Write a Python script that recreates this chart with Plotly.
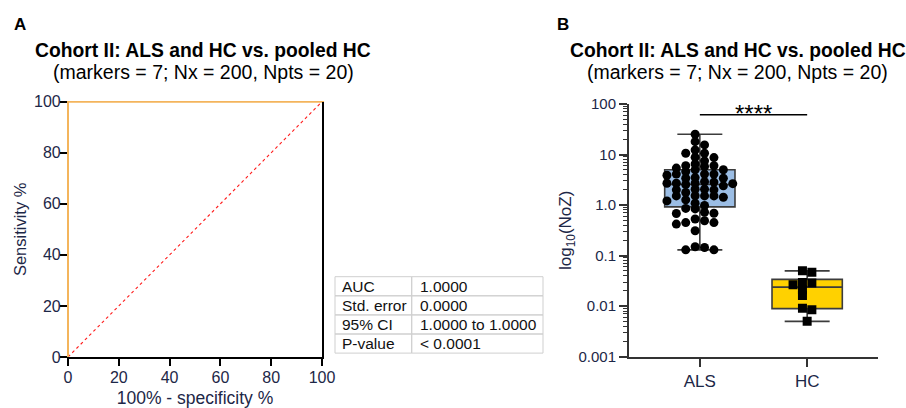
import numpy as np
import plotly.graph_objects as go

# ---------------- data ----------------
roc_fpr = [0, 0, 100]
roc_tpr = [0, 100, 100]
ref_line = [0, 100]

table_labels = ["AUC", "Std. error", "95% CI", "P-value"]
table_values = ["1.0000", "0.0000", "1.0000 to 1.0000", "< 0.0001"]

groups = ["ALS", "HC"]
als_values = [25.2, 15.5, 18.0, 12.3, 10.6, 10.6, 8.8, 8.7, 7.5, 6.5, 6.0, 6.0, 5.8, 5.4,
              5.0, 5.0, 4.6, 4.1, 3.9, 4.1, 4.1, 3.5, 3.4, 3.4, 2.7, 2.7, 2.65, 2.7, 2.9,
              2.85, 2.4, 2.55, 2.06, 2.0, 2.06, 2.0, 1.52, 1.77, 1.52, 1.53, 1.52, 1.43,
              1.21, 1.27, 0.98, 1.09, 0.84, 0.86, 0.72, 0.69, 0.68, 0.53, 0.49, 0.45, 0.45,
              0.42, 0.31, 0.130, 0.15, 0.130, 0.145]
hc_values = [0.050, 0.047, 0.0286, 0.0211, 0.0265, 0.0295, 0.0163, 0.0091, 0.0085, 0.0050]

y_tickvals = [0.001, 0.01, 0.1, 1, 10, 100]
y_ticktext = ["0.001", "0.01", "0.1", "1.0", "10", "100"]
roc_ticks = [0, 20, 40, 60, 80, 100]

# ---------------- geometry helpers ----------------
W, H = 906, 408
def px(x):
    return x / W
def py(y):
    return 1 - y / H

L_X = [px(68), px(322)]
L_Y = [py(357), py(101.7)]
R_X = [px(629), px(878)]
R_Y = [py(356.7), py(104)]
x2_range = [-0.66, 1.66]
y2_range = [-3, 2]

NAVY = "#1d2747"
ORANGE = "#f4b55c"
FONT = "Arial, Liberation Sans, sans-serif"

# pixel scales for the swarm layout
ppu = (878 - 629) / (x2_range[1] - x2_range[0])
ppd = (356.7 - 104) / (y2_range[1] - y2_range[0])


def swarm(vals, col=9.4, dv=5.6):
    """column-constrained scatter: points go to half-integer columns nearest centre"""
    v = np.asarray(vals, float)
    ys = np.log10(v) * ppd
    order = np.argsort(-v)
    offs = np.zeros(len(v))
    cands = []
    for k in range(8):
        cands += [-(k + 0.5), (k + 0.5)]
    placed = {}
    for i in order:
        others = np.delete(ys, i)
        if np.all(np.abs(others - ys[i]) >= 8.0):
            offs[i] = 0.0
            continue
        for c in cands:
            if all(abs(y - ys[i]) >= dv for y in placed.get(c, [])):
                placed.setdefault(c, []).append(ys[i])
                offs[i] = c
                break
    return offs * col / ppu


def stats(vals):
    v = np.asarray(vals, float)
    q1, med, q3 = np.percentile(v, [25, 50, 75], method="weibull")
    return dict(q1=[q1], median=[med], q3=[q3], lowerfence=[v.min()], upperfence=[v.max()])


fig = go.Figure()

# ---------------- panel A: ROC ----------------
fig.add_trace(go.Scatter(x=ref_line, y=ref_line, mode="lines",
                         line=dict(color="#ff1a1a", width=1.1, dash="dot"),
                         xaxis="x", yaxis="y", showlegend=False, hoverinfo="skip"))
fig.add_trace(go.Scatter(x=roc_fpr, y=roc_tpr, mode="lines",
                         line=dict(color=ORANGE, width=2),
                         cliponaxis=False,
                         xaxis="x", yaxis="y", showlegend=False))

# ---------------- panel B: box + points ----------------
box_fill = ["#9bbde4", "#ffd100"]
markers = ["circle", "square"]
for gi, (name, vals) in enumerate(zip(groups, [als_values, hc_values])):
    fig.add_trace(go.Box(x=[gi], **stats(vals), width=0.655, whiskerwidth=0.64,
                         fillcolor=box_fill[gi], line=dict(color="#3c3c3c", width=1.6),
                         boxpoints=False, xaxis="x2", yaxis="y2", showlegend=False, name=name))
for gi, (name, vals) in enumerate(zip(groups, [als_values, hc_values])):
    offs = swarm(vals)
    fig.add_trace(go.Scatter(x=gi + offs, y=vals, mode="markers",
                             marker=dict(color="black", size=9, symbol=markers[gi],
                                         line=dict(width=0)),
                             xaxis="x2", yaxis="y2", showlegend=False, name=name))

# minor ticks on log axis
minor_vals = [m * 10.0 ** e for e in range(-3, 2) for m in range(2, 10)]

tickfont = dict(family=FONT, size=16, color=NAVY)
common_l = dict(range=[0, 100], showgrid=False, zeroline=False, layer="below traces",
                automargin=False)

fig.update_layout(
    template="none",
    width=W, height=H, margin=dict(l=0, r=0, t=0, b=0, autoexpand=False),
    paper_bgcolor="white", plot_bgcolor="white",
    font=dict(family=FONT, color=NAVY),
    xaxis=dict(domain=L_X, tickvals=roc_ticks, ticks="outside",
               ticklen=7, tickwidth=1.5, tickcolor="black", showline=True,
               linecolor="black", linewidth=2, tickfont=tickfont,
               ticklabelstandoff=-2,
               title=dict(text="100% - specificity %", font=dict(family=FONT, size=17.5, color=NAVY),
                          standoff=10),
               anchor="y", **common_l),
    yaxis=dict(domain=L_Y, tickvals=roc_ticks, ticks="outside",
               ticklen=7, tickwidth=1.5, tickcolor="black", showline=True,
               linecolor=ORANGE, linewidth=1.2, tickfont=tickfont,
               ticklabelstandoff=-4,
               title=dict(text="Sensitivity %", font=dict(family=FONT, size=16.5, color=NAVY),
                          standoff=3),
               anchor="x", **common_l),
    # frame: top (orange, under the ROC curve) and right (black)
    xaxis3=dict(domain=L_X, overlaying="x", side="top", showline=True, linecolor=ORANGE,
                linewidth=1.2, ticks="", showticklabels=False, anchor="y", **common_l),
    yaxis3=dict(domain=L_Y, overlaying="y", side="right", showline=True, linecolor="black",
                linewidth=2, ticks="", showticklabels=False, anchor="x", **common_l),
    xaxis2=dict(domain=R_X, range=x2_range, tickvals=[0, 1], ticktext=groups,
                ticks="outside", ticklen=8, tickwidth=2, tickcolor="#333",
                showline=True, linecolor="#333", linewidth=2, showgrid=False,
                zeroline=False, tickfont=dict(family=FONT, size=17, color=NAVY),
                automargin=False, anchor="y2"),
    yaxis2=dict(domain=R_Y, type="log", range=y2_range, tickvals=y_tickvals,
                ticktext=y_ticktext, ticks="outside", ticklen=8, tickwidth=1.5,
                tickcolor="#333", showline=True, linecolor="#333", linewidth=2,
                showgrid=False, zeroline=False,
                tickfont=dict(family=FONT, size=15, color=NAVY), automargin=False,
                minor=dict(tickvals=minor_vals, ticks="outside", ticklen=4,
                           tickwidth=1, tickcolor="#333", showgrid=False),
                title=dict(text="log<sub>10</sub>(NoZ)", font=dict(family=FONT, size=17, color=NAVY),
                           standoff=2),
                anchor="x2"),
)
# invisible carrier traces so the overlay frame axes are drawn
fig.add_trace(go.Scatter(x=[None], y=[None], xaxis="x3", yaxis="y", showlegend=False,
                         hoverinfo="skip"))
fig.add_trace(go.Scatter(x=[None], y=[None], xaxis="x", yaxis="y3", showlegend=False,
                         hoverinfo="skip"))

annos = []
title_main = "Cohort II: ALS and HC vs. pooled HC"
title_sub = "(markers = 7; Nx = 200, Npts = 20)"
for letter, lx, cx in [("A", 20, 203), ("B", 563, 737.5)]:
    annos.append(dict(text=f"<b>{letter}</b>", x=px(lx), y=py(24), xref="paper", yref="paper",
                      showarrow=False, xanchor="center", yanchor="middle",
                      font=dict(family=FONT, size=17, color="black")))
    annos.append(dict(text=f"<b>{title_main}</b>", x=px(cx), y=py(50), xref="paper", yref="paper",
                      showarrow=False, xanchor="center", yanchor="middle",
                      font=dict(family=FONT, size=19.3, color="black")))
    annos.append(dict(text=title_sub, x=px(cx), y=py(72), xref="paper", yref="paper",
                      showarrow=False, xanchor="center", yanchor="middle",
                      font=dict(family=FONT, size=19.5, color="black")))

# significance bar
annos.append(dict(text="****", x=0.5, y=py(113), xref="x2", yref="paper", showarrow=False,
                  xanchor="center", yanchor="middle",
                  font=dict(family=FONT, size=24, color="black")))
shapes = [dict(type="line", xref="x2", yref="paper", x0=0, x1=1, y0=py(114.7), y1=py(114.7),
               line=dict(color="black", width=1.5))]

# stats table
t_left, t_mid, t_right = 335, 411.7, 543
t_top, row_h = 276.7, 19.1
for i, (lab, val) in enumerate(zip(table_labels, table_values)):
    y0 = t_top + i * row_h
    y1 = y0 + row_h
    for xa, xb in [(t_left, t_mid), (t_mid, t_right)]:
        shapes.append(dict(type="rect", xref="paper", yref="paper",
                           x0=px(xa), x1=px(xb), y0=py(y1), y1=py(y0),
                           line=dict(color="#cfcfcf", width=1), fillcolor="rgba(0,0,0,0)"))
    yc = py((y0 + y1) / 2)
    annos.append(dict(text=lab, x=px(t_left + 5), y=yc, xref="paper", yref="paper",
                      showarrow=False, xanchor="left", yanchor="middle",
                      font=dict(family=FONT, size=15.5, color="#111")))
    annos.append(dict(text=val, x=px(t_mid + 6), y=yc, xref="paper", yref="paper",
                      showarrow=False, xanchor="left", yanchor="middle",
                      font=dict(family=FONT, size=15.5, color="#111")))

fig.update_layout(annotations=annos, shapes=shapes)
fig.write_html("out.html", config={"displayModeBar": False},
               post_script="document.body.style.margin='0';document.body.style.overflow='hidden';")
